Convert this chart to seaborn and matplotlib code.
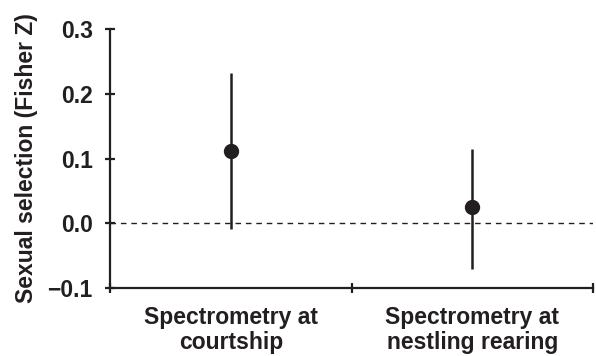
import numpy as np
import pandas as pd
import matplotlib.pyplot as plt
import seaborn as sns
from matplotlib.ticker import FixedLocator

# data
stages = ["Spectrometry at\ncourtship", "Spectrometry at\nnestling rearing"]
fisher_z = [0.112, 0.025]
ci_low = [-0.009, -0.070]
ci_high = [0.232, 0.115]
y_ticks = [-0.1, 0.0, 0.1, 0.2, 0.3]
y_tick_labels = ["\u22120.1", "0.0", "0.1", "0.2", "0.3"]

ink = "#231f20"
fs = 16.5

sns.set_style("ticks")
plt.rcParams["font.family"] = ["Liberation Sans", "DejaVu Sans"]
plt.rcParams["font.weight"] = "bold"

df = pd.DataFrame({"stage": stages, "z": fisher_z, "lo": ci_low, "hi": ci_high})

fig = plt.figure(figsize=(5.96, 3.56), dpi=100)
ax = fig.add_axes([0.1846, 0.191, 0.8104, 0.7275])

ax.axhline(0, color=ink, lw=1, ls=(0, (4, 3.5)), zorder=1)
ax.vlines(np.arange(len(stages)), df["lo"], df["hi"], color=ink, lw=1.8, zorder=2)
sns.pointplot(data=df, x="stage", y="z", order=stages, errorbar=None,
              linestyle="none", color=ink, markersize=9, ax=ax, zorder=3)

ax.set_xlim(-0.5, 1.5)
ax.set_ylim(-0.1, 0.3)
ax.set_yticks(y_ticks)
ax.set_yticklabels(y_tick_labels)
ax.xaxis.set_minor_locator(FixedLocator([-0.5, 0.5, 1.5]))
ax.tick_params(axis="x", which="major", length=0, pad=13, labelsize=fs)
ax.tick_params(axis="x", which="minor", direction="inout", length=7, width=1.6, color=ink)
ax.tick_params(axis="y", direction="inout", length=7, width=1.6, color=ink,
               labelsize=fs, pad=9)
for lab in ax.get_xticklabels() + ax.get_yticklabels():
    lab.set_fontweight("bold")
    lab.set_color(ink)
    lab.set_linespacing(1.1)

ax.set_xlabel("")
ax.set_ylabel("Sexual selection (Fisher Z)", fontsize=fs, fontweight="bold",
              color=ink, labelpad=7)

sns.despine(ax=ax)
for side in ["left", "bottom"]:
    ax.spines[side].set_linewidth(1.6)
    ax.spines[side].set_color(ink)

fig.savefig("out.png", dpi=100)
